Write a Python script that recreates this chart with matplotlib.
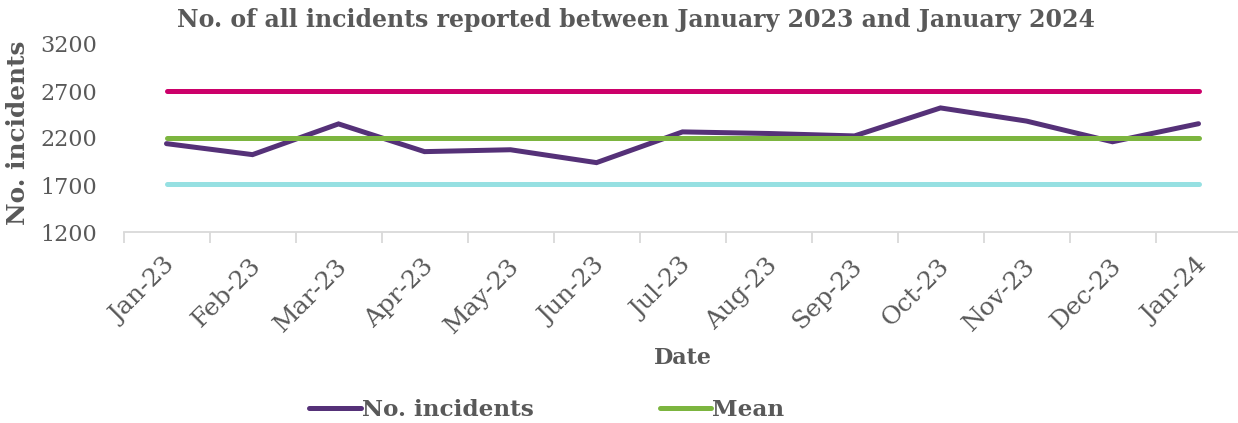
import matplotlib
matplotlib.use("Agg")
import matplotlib.pyplot as plt
import matplotlib.transforms as mtransforms
import numpy as np

months = ["Jan-23", "Feb-23", "Mar-23", "Apr-23", "May-23", "Jun-23", "Jul-23",
          "Aug-23", "Sep-23", "Oct-23", "Nov-23", "Dec-23", "Jan-24"]
incidents = [2140, 2023, 2350, 2055, 2075, 1938, 2265, 2248, 2222, 2520, 2380, 2160, 2352]
mean_value = 2205
upper_limit = 2700
lower_limit = 1712
y_ticks = [1200, 1700, 2200, 2700, 3200]

TEXT = "#595959"
plt.rcParams['font.family'] = ['DejaVu Serif']

fig = plt.figure(figsize=(12.38, 4.23), dpi=100)
W, H = 1238, 423
left_px, right_px, top_px, bottom_px = 123.5, 1238, 44, 232
ax = fig.add_axes([left_px / W, 1 - bottom_px / H, (right_px - left_px) / W, (bottom_px - top_px) / H])

x = np.arange(len(months))
lw = 3.6
ax.plot(x, [upper_limit] * len(x), color="#CC006A", lw=lw, solid_capstyle="round", zorder=2)
ax.plot(x, [lower_limit] * len(x), color="#96E0E2", lw=lw, solid_capstyle="round", zorder=2)
l1, = ax.plot(x, incidents, color="#553178", lw=lw, solid_capstyle="round", solid_joinstyle="miter", zorder=3, label="No. incidents")
l2, = ax.plot(x, [mean_value] * len(x), color="#7CB53F", lw=lw, solid_capstyle="round", zorder=4, label="Mean")

spacing = 86.0
ax.set_xlim(-0.5, -0.5 + (right_px - left_px) / spacing)
ax.set_ylim(1200, 3200)
ax.set_yticks(y_ticks)
ax.set_yticklabels([str(v) for v in y_ticks])
ax.set_xticks(x)
ax.set_xticklabels(months, rotation=45, ha="right", rotation_mode="anchor")
ax.set_xticks(np.arange(-0.5, len(months) - 1, 1), minor=True)
ax.tick_params(axis="x", which="major", length=0, pad=16, labelsize=18, labelcolor=TEXT)
ax.tick_params(axis="x", which="minor", length=8, color="#D9D9D9", width=1.3)
ax.tick_params(axis="y", length=0, pad=19, labelsize=16, labelcolor=TEXT)
offset = mtransforms.ScaledTranslation(-3 / 100, 0, fig.dpi_scale_trans)
for lab in ax.get_xticklabels():
    lab.set_transform(lab.get_transform() + offset)
for s in ["top", "right", "left"]:
    ax.spines[s].set_visible(False)
ax.spines["bottom"].set_color("#D9D9D9")
ax.spines["bottom"].set_linewidth(1.3)

fig.text(636 / W, 1 - 20 / H, "No. of all incidents reported between January 2023 and January 2024",
         ha="center", va="center", fontsize=17, fontweight="bold", color=TEXT)
fig.text(18 / W, 1 - 133 / H, "No. incidents", rotation=90, ha="center", va="center",
         fontsize=17.8, fontweight="bold", color=TEXT)
fig.text(683 / W, 1 - 358 / H, "Date", ha="center", va="center",
         fontsize=16, fontweight="bold", color=TEXT)

leg = fig.legend(handles=[l1, l2], loc="center", bbox_to_anchor=(547 / W, 1 - 410 / H), ncol=2,
                 frameon=False, handlelength=2.2, handletextpad=0.08, columnspacing=5.4,
                 prop={"weight": "bold", "size": 16.7})
for t in leg.get_texts():
    t.set_color(TEXT)

fig.savefig("out.png", dpi=100)
